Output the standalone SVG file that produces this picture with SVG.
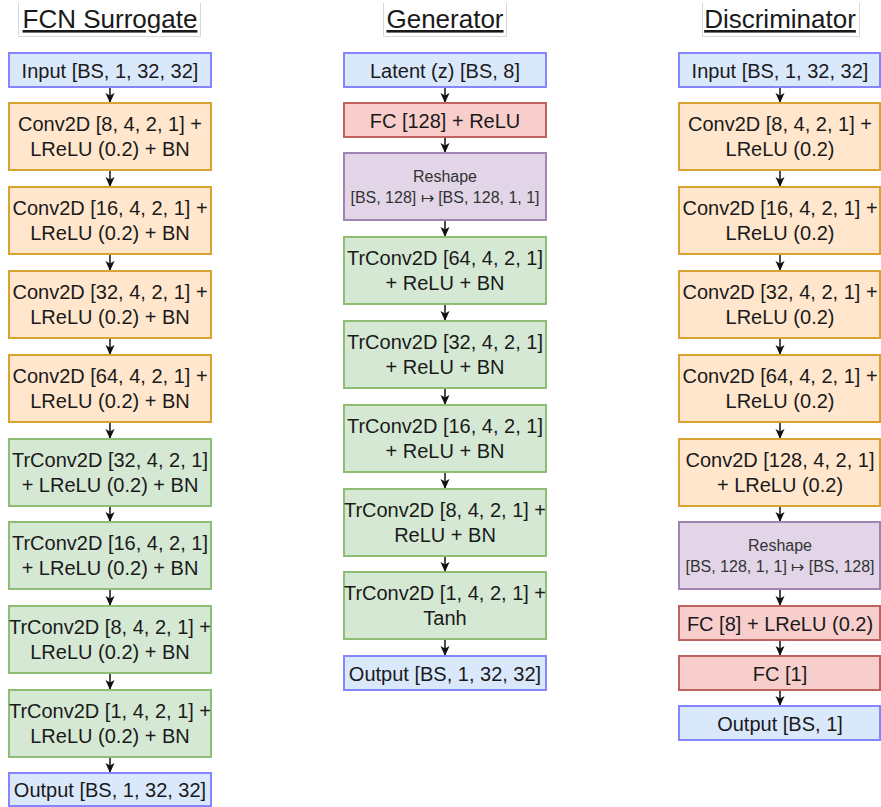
<svg xmlns="http://www.w3.org/2000/svg" width="881" height="807" viewBox="0 0 881 807">
<defs>
<style>
text{font-family:"Liberation Sans",Arial,sans-serif;fill:#1a1a1a;text-anchor:middle}
.t{font-size:20px}
.s{font-size:16px;fill:#333}
.h{font-size:26px;text-decoration:underline}
.tb{fill:none;stroke:#d6d6d6;stroke-width:1}
.blue{fill:#dae8fc;stroke:#8585ff;stroke-width:2}
.org{fill:#ffe6cc;stroke:#d9a331;stroke-width:2}
.grn{fill:#d5e8d4;stroke:#8fbd74;stroke-width:2}
.red{fill:#f8cecc;stroke:#c0625e;stroke-width:2}
.pur{fill:#e1d5e7;stroke:#a085b0;stroke-width:2}
.c line{stroke:#111;stroke-width:1.5;marker-end:url(#ah)}
</style>
<marker id="ah" markerUnits="userSpaceOnUse" markerWidth="11" markerHeight="10" refX="10" refY="4.5" orient="auto">
<path d="M0,0 L10,4.5 L0,9 L2.5,4.5 Z" fill="#111"/>
</marker>
</defs>
<rect width="881" height="807" fill="#fff"/>

<g id="titles">
<path class="tb" d="M18.5,3 V36.5 H200.5 V3"/>
<text class="h" x="110" y="28">FCN Surrogate</text>
<path class="tb" d="M383.5,3 V36.5 H506.5 V3"/>
<text class="h" x="445" y="28">Generator</text>
<path class="tb" d="M702.5,3 V36.5 H859.5 V3"/>
<text class="h" x="780" y="28">Discriminator</text>
</g>

<g class="c" id="connectors">
<line x1="110" y1="87" x2="110" y2="103"/>
<line x1="110" y1="170" x2="110" y2="187"/>
<line x1="110" y1="254" x2="110" y2="271"/>
<line x1="110" y1="338" x2="110" y2="355"/>
<line x1="110" y1="422" x2="110" y2="439"/>
<line x1="110" y1="506" x2="110" y2="522"/>
<line x1="110" y1="589" x2="110" y2="606"/>
<line x1="110" y1="673" x2="110" y2="690"/>
<line x1="110" y1="757" x2="110" y2="773"/>

<line x1="445" y1="87" x2="445" y2="103"/>
<line x1="445" y1="137" x2="445" y2="153"/>
<line x1="445" y1="220" x2="445" y2="237"/>
<line x1="445" y1="304" x2="445" y2="321"/>
<line x1="445" y1="388" x2="445" y2="405"/>
<line x1="445" y1="472" x2="445" y2="489"/>
<line x1="445" y1="556" x2="445" y2="572"/>
<line x1="445" y1="639" x2="445" y2="656"/>

<line x1="780" y1="87" x2="780" y2="103"/>
<line x1="780" y1="170" x2="780" y2="187"/>
<line x1="780" y1="254" x2="780" y2="271"/>
<line x1="780" y1="338" x2="780" y2="355"/>
<line x1="780" y1="422" x2="780" y2="439"/>
<line x1="780" y1="506" x2="780" y2="522"/>
<line x1="780" y1="589" x2="780" y2="606"/>
<line x1="780" y1="640" x2="780" y2="656"/>
<line x1="780" y1="690" x2="780" y2="706"/>
</g>

<!-- FCN Surrogate -->
<g id="fcn-input"><rect class="blue" x="9" y="53" width="202" height="34"/><text class="t" x="110" y="77.5">Input [BS, 1, 32, 32]</text></g>
<g id="fcn-conv1"><rect class="org" x="9" y="103" width="202" height="67"/><text class="t" x="110" y="131">Conv2D [8, 4, 2, 1] +</text><text class="t" x="110" y="155.5">LReLU (0.2) + BN</text></g>
<g id="fcn-conv2"><rect class="org" x="9" y="187" width="202" height="67"/><text class="t" x="110" y="215">Conv2D [16, 4, 2, 1] +</text><text class="t" x="110" y="239.5">LReLU (0.2) + BN</text></g>
<g id="fcn-conv3"><rect class="org" x="9" y="271" width="202" height="67"/><text class="t" x="110" y="299">Conv2D [32, 4, 2, 1] +</text><text class="t" x="110" y="323.5">LReLU (0.2) + BN</text></g>
<g id="fcn-conv4"><rect class="org" x="9" y="355" width="202" height="67"/><text class="t" x="110" y="383">Conv2D [64, 4, 2, 1] +</text><text class="t" x="110" y="407.5">LReLU (0.2) + BN</text></g>
<g id="fcn-tr1"><rect class="grn" x="9" y="439" width="202" height="67"/><text class="t" x="110" y="467">TrConv2D [32, 4, 2, 1]</text><text class="t" x="110" y="491.5">+ LReLU (0.2) + BN</text></g>
<g id="fcn-tr2"><rect class="grn" x="9" y="522" width="202" height="67"/><text class="t" x="110" y="550">TrConv2D [16, 4, 2, 1]</text><text class="t" x="110" y="574.5">+ LReLU (0.2) + BN</text></g>
<g id="fcn-tr3"><rect class="grn" x="9" y="606" width="202" height="67"/><text class="t" x="110" y="634">TrConv2D [8, 4, 2, 1] +</text><text class="t" x="110" y="658.5">LReLU (0.2) + BN</text></g>
<g id="fcn-tr4"><rect class="grn" x="9" y="690" width="202" height="67"/><text class="t" x="110" y="718">TrConv2D [1, 4, 2, 1] +</text><text class="t" x="110" y="742.5">LReLU (0.2) + BN</text></g>
<g id="fcn-output"><rect class="blue" x="9" y="773" width="202" height="33"/><text class="t" x="110" y="797">Output [BS, 1, 32, 32]</text></g>

<!-- Generator -->
<g id="gen-latent"><rect class="blue" x="344" y="53" width="202" height="34"/><text class="t" x="445" y="77.5">Latent (z) [BS, 8]</text></g>
<g id="gen-fc"><rect class="red" x="344" y="103" width="202" height="34"/><text class="t" x="445" y="127.5">FC [128] + ReLU</text></g>
<g id="gen-reshape"><rect class="pur" x="344" y="153" width="202" height="67"/><text class="s" x="445" y="182">Reshape</text><text class="s" x="445" y="203">[BS, 128] ↦ [BS, 128, 1, 1]</text></g>
<g id="gen-tr64"><rect class="grn" x="344" y="237" width="202" height="67"/><text class="t" x="445" y="265">TrConv2D [64, 4, 2, 1]</text><text class="t" x="445" y="289.5">+ ReLU + BN</text></g>
<g id="gen-tr32"><rect class="grn" x="344" y="321" width="202" height="67"/><text class="t" x="445" y="349">TrConv2D [32, 4, 2, 1]</text><text class="t" x="445" y="373.5">+ ReLU + BN</text></g>
<g id="gen-tr16"><rect class="grn" x="344" y="405" width="202" height="67"/><text class="t" x="445" y="433">TrConv2D [16, 4, 2, 1]</text><text class="t" x="445" y="457.5">+ ReLU + BN</text></g>
<g id="gen-tr8"><rect class="grn" x="344" y="489" width="202" height="67"/><text class="t" x="445" y="517">TrConv2D [8, 4, 2, 1] +</text><text class="t" x="445" y="541.5">ReLU + BN</text></g>
<g id="gen-tr1"><rect class="grn" x="344" y="572" width="202" height="67"/><text class="t" x="445" y="600">TrConv2D [1, 4, 2, 1] +</text><text class="t" x="445" y="624.5">Tanh</text></g>
<g id="gen-output"><rect class="blue" x="344" y="656" width="202" height="34"/><text class="t" x="445" y="680.5">Output [BS, 1, 32, 32]</text></g>

<!-- Discriminator -->
<g id="dis-input"><rect class="blue" x="679" y="53" width="201" height="34"/><text class="t" x="780" y="77.5">Input [BS, 1, 32, 32]</text></g>
<g id="dis-conv8"><rect class="org" x="679" y="103" width="201" height="67"/><text class="t" x="780" y="131">Conv2D [8, 4, 2, 1] +</text><text class="t" x="780" y="155.5">LReLU (0.2)</text></g>
<g id="dis-conv16"><rect class="org" x="679" y="187" width="201" height="67"/><text class="t" x="780" y="215">Conv2D [16, 4, 2, 1] +</text><text class="t" x="780" y="239.5">LReLU (0.2)</text></g>
<g id="dis-conv32"><rect class="org" x="679" y="271" width="201" height="67"/><text class="t" x="780" y="299">Conv2D [32, 4, 2, 1] +</text><text class="t" x="780" y="323.5">LReLU (0.2)</text></g>
<g id="dis-conv64"><rect class="org" x="679" y="355" width="201" height="67"/><text class="t" x="780" y="383">Conv2D [64, 4, 2, 1] +</text><text class="t" x="780" y="407.5">LReLU (0.2)</text></g>
<g id="dis-conv128"><rect class="org" x="679" y="439" width="201" height="67"/><text class="t" x="780" y="467">Conv2D [128, 4, 2, 1]</text><text class="t" x="780" y="491.5">+ LReLU (0.2)</text></g>
<g id="dis-reshape"><rect class="pur" x="679" y="522" width="201" height="67"/><text class="s" x="780" y="551">Reshape</text><text class="s" x="780" y="572">[BS, 128, 1, 1] ↦ [BS, 128]</text></g>
<g id="dis-fc8"><rect class="red" x="679" y="606" width="201" height="34"/><text class="t" x="780" y="630.5">FC [8] + LReLU (0.2)</text></g>
<g id="dis-fc1"><rect class="red" x="679" y="656" width="201" height="34"/><text class="t" x="780" y="680.5">FC [1]</text></g>
<g id="dis-output"><rect class="blue" x="679" y="706" width="201" height="34"/><text class="t" x="780" y="730.5">Output [BS, 1]</text></g>
</svg>
